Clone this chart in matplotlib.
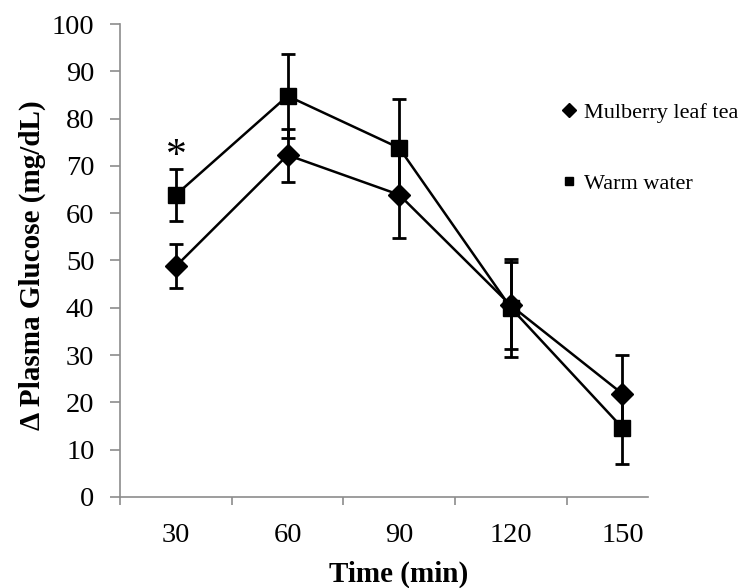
import numpy as np
import matplotlib.pyplot as plt
from matplotlib.lines import Line2D

plt.rcParams['font.family'] = ['Liberation Serif', 'DejaVu Serif']

# data
time_labels = ['30', '60', '90', '120', '150']
mulberry_mean = [48.8, 72.3, 63.9, 40.5, 21.8]
mulberry_err = [4.6, 5.6, 9.2, 9.2, 8.3]
water_mean = [63.9, 84.8, 73.8, 40.0, 14.6]
water_err = [5.5, 8.8, 10.4, 10.4, 7.7]

x = np.arange(1, len(time_labels) + 1)

fig = plt.figure(figsize=(7.51, 5.88), dpi=100)
ax = fig.add_axes([0.160, 0.155, 0.703, 0.804])

ax.errorbar(x, water_mean, yerr=water_err, color='black', lw=1.8,
            marker='s', ms=12, capsize=5, capthick=2, elinewidth=2,
            zorder=3)
ax.errorbar(x, mulberry_mean, yerr=mulberry_err, color='black', lw=1.8,
            marker='D', ms=11.5, capsize=5, capthick=2, elinewidth=2,
            zorder=3)

# significance mark at 30 min
ax.text(x[0], water_mean[0] + water_err[0] + 2.6, '*', ha='center',
        va='center', fontsize=30)

ax.set_ylim(0, 100)
ax.set_yticks(np.arange(0, 101, 10))
ax.set_xlim(0.5, 5.23)
ax.set_xticks(np.arange(0.5, 5.0, 1.0))
ax.set_xticklabels([])
ax.set_xticks(x, minor=True)
ax.set_xticklabels(time_labels, minor=True)

for s in ['top', 'right']:
    ax.spines[s].set_visible(False)
for s in ['left', 'bottom']:
    ax.spines[s].set_color('#8c8c8c')
    ax.spines[s].set_linewidth(1.2)

ax.tick_params(axis='y', which='major', direction='out', length=7.5,
               color='#8c8c8c', width=1.2, labelsize=20.5, pad=11)
ax.tick_params(axis='x', which='major', direction='out', length=6,
               color='#8c8c8c', width=1.2)
ax.tick_params(axis='x', which='minor', length=0, labelsize=20.5, pad=19)

ax.set_ylabel('Δ Plasma Glucose (mg/dL)', fontsize=21, fontweight='bold')
ax.yaxis.set_label_coords(-0.14, 0.49)
ax.set_xlabel('Time (min)', fontsize=21, fontweight='bold')
ax.xaxis.set_label_coords(0.528, -0.135)

# legend placed like the reference (outside plot, right side)
h_m = Line2D([], [], color='black', marker='D', ls='none', ms=7)
h_w = Line2D([], [], color='black', marker='s', ls='none', ms=6)
fig.legend([h_m, h_w], ['Mulberry leaf tea', 'Warm water'],
           loc='upper left', bbox_to_anchor=(0.729, 0.853), frameon=False,
           fontsize=16, handlelength=0.5, handletextpad=0.45,
           labelspacing=2.3, borderpad=0.2)

fig.savefig('out.png', dpi=100)
